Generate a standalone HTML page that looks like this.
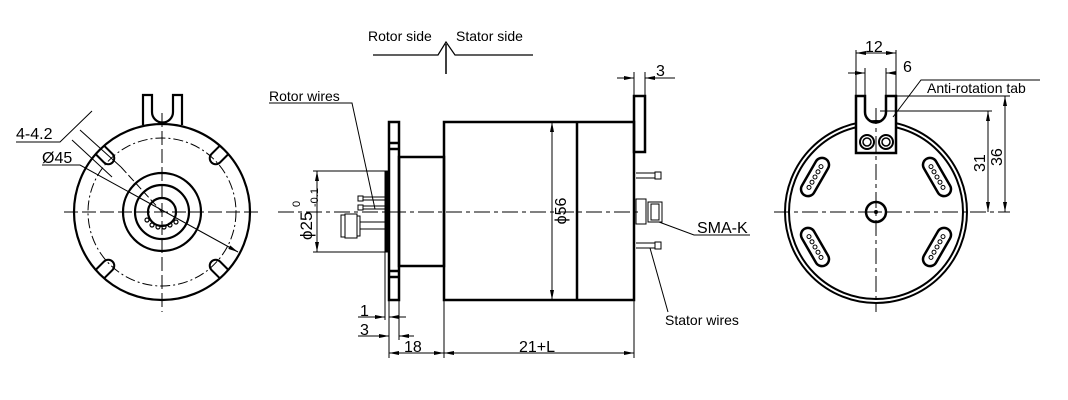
<!DOCTYPE html>
<html><head><meta charset="utf-8"><style>
html,body{margin:0;padding:0;background:#fff;width:1068px;height:400px;overflow:hidden}
svg{display:block}
text{font-family:"Liberation Sans",Arial,sans-serif;fill:#000;stroke:none}
</style></head><body>
<svg width="1068" height="400" viewBox="0 0 1068 400" xmlns="http://www.w3.org/2000/svg">
<defs>
<marker id="a" viewBox="0 0 10 4" refX="10" refY="2" markerWidth="10" markerHeight="4" orient="auto-start-reverse" markerUnits="userSpaceOnUse"><path d="M0,0 L10,2 L0,4z" fill="#000" stroke="none"/></marker>
</defs>
<g fill="none" stroke="#000">
<!-- LEFT VIEW -->
<g stroke-width="2.2">
<circle cx="162" cy="212" r="88"/>
<circle cx="162" cy="212" r="39"/>
<circle cx="162" cy="212" r="27"/>
<circle cx="162" cy="212" r="14"/>
<path d="M143,125 V95 H152 V112 A10.5,10.5 0 0 0 173,112 V95 H182 V125"/>
</g>
<circle cx="162" cy="212" r="74" stroke-width="1" stroke-dasharray="10,3,2,3"/>
<g stroke-width="2">
<g transform="translate(162,212) rotate(-45)"><path d="M-6,-88 V-76 A6,6 0 0 0 6,-76 V-88"/></g>
<g transform="translate(162,212) rotate(45)"><path d="M-6,-88 V-76 A6,6 0 0 0 6,-76 V-88"/></g>
<g transform="translate(162,212) rotate(135)"><path d="M-6,-88 V-76 A6,6 0 0 0 6,-76 V-88"/></g>
<g transform="translate(162,212) rotate(-135)"><path d="M-6,-88 V-76 A6,6 0 0 0 6,-76 V-88"/></g>
</g>
<g stroke-width="1.2">
<circle cx="147" cy="220" r="2"/><circle cx="152" cy="225" r="2"/><circle cx="158" cy="227" r="2"/><circle cx="164" cy="227" r="2"/><circle cx="170" cy="225" r="2"/><circle cx="176" cy="222" r="2"/>
</g>
<g stroke-width="1">
<path d="M64,212 H260" stroke-dasharray="14,4"/>
<path d="M162,113 V312" stroke-dasharray="14,4"/>
<path d="M42,165 H80 L238,252" marker-end="url(#a)"/>
<path d="M16,142 H60 L92,111"/>
<path d="M72,140 L112,177"/><path d="M80,130 L121,167"/>
<path d="M121,167 L162,212" stroke-dasharray="8,3"/>
</g>
<text x="16" y="139" font-size="16">4-4.2</text>
<text x="42" y="163" font-size="16">Ø45</text>

<!-- TOP ARROW -->
<path d="M373,55 H438 L446,42 L455,55 H533" stroke-width="1.2"/>
<path d="M446,44 V74" stroke-width="1.5"/>
<text x="368" y="41" font-size="14">Rotor side</text>
<text x="456" y="41" font-size="14">Stator  side</text>

<!-- MIDDLE VIEW -->
<g stroke-width="2.5">
<rect x="389" y="122" width="10" height="178"/>
<path d="M389,143 H399 M389,149 H399 M389,271 H399 M389,277 H399"/>
<rect x="399" y="157" width="45" height="109"/>
<rect x="444" y="122" width="190" height="178"/>
<path d="M577,122 V300"/>
<rect x="634" y="96" width="11" height="56"/>
</g>
<rect x="385" y="171" width="4" height="81" fill="#000" stroke-width="1"/>
<path d="M278,212 H640" stroke-width="1" stroke-dasharray="16,4,4,4"/>
<g stroke-width="1">
<rect x="358" y="196" width="5" height="5"/><rect x="358" y="205" width="5" height="5"/>
<path d="M363,197 H385 M363,200 H385 M363,206 H385 M363,209 H385"/>
<rect x="341" y="215" width="4" height="22"/><rect x="345" y="214" width="12" height="24"/><rect x="357" y="216" width="3" height="20"/>
<path d="M360,222 H385 M360,229 H385"/>
<path d="M269,103 H352 L375,209"/>
</g>
<g stroke-width="1">
<path d="M636,173 H655 M636,178 H655"/><rect x="655" y="172" width="6" height="7"/>
<path d="M636,243 H655 M636,248 H655"/><rect x="655" y="242" width="6" height="7"/>
<rect x="636" y="199" width="10" height="25"/><rect x="648" y="202" width="14" height="20"/><rect x="651" y="204" width="8" height="16"/>
<path d="M659,222 L694,235 H750"/>
<path d="M650,248 L668,312"/>
</g>
<g stroke-width="1">
<path d="M313,171 H385 M313,252 H385"/>
<path d="M317,171 V252" marker-start="url(#a)" marker-end="url(#a)"/>
<path d="M552,122 V300" marker-start="url(#a)" marker-end="url(#a)"/>
<path d="M385,252 V320 M389,300 V358 M399,300 V340 M444,300 V358 M634,300 V358 M634,96 V72 M645,96 V72"/>
<path d="M358,317 H385" marker-end="url(#a)"/><path d="M406,317 H389" marker-end="url(#a)"/>
<path d="M358,336 H389" marker-end="url(#a)"/><path d="M414,336 H399" marker-end="url(#a)"/>
<path d="M389,353 H444" marker-start="url(#a)" marker-end="url(#a)"/>
<path d="M444,353 H634" marker-start="url(#a)" marker-end="url(#a)"/>
<path d="M617,78 H634" marker-end="url(#a)"/><path d="M662,78 H645" marker-end="url(#a)"/><path d="M645,78 H675"/>
</g>
<text x="269" y="101" font-size="14">Rotor wires</text>
<text x="360" y="316" font-size="16">1</text>
<text x="360" y="335" font-size="16">3</text>
<text x="404" y="352" font-size="16">18</text>
<text x="519" y="352" font-size="16">21+L</text>
<text x="656" y="76" font-size="16">3</text>
<text x="697" y="233" font-size="16">SMA-K</text>
<text x="665" y="325" font-size="14">Stator wires</text>
<text transform="translate(566,211) rotate(-90)" font-size="16" text-anchor="middle">ϕ56</text>
<text transform="translate(312,240) rotate(-90)" font-size="17">ϕ25</text>
<text transform="translate(300,207) rotate(-90)" font-size="11">0</text>
<text transform="translate(318,207) rotate(-90)" font-size="11">-0.1</text>

<!-- RIGHT VIEW -->
<circle cx="876" cy="212" r="91" stroke-width="2"/>
<circle cx="876" cy="212" r="87" stroke-width="2"/>
<path d="M856,153 V96 H865 V112 A10.5,10.5 0 0 0 886,112 V96 H896 V153 Z" fill="#fff" stroke-width="2.5"/>
<circle cx="867" cy="142" r="7" stroke-width="2"/><circle cx="867" cy="142" r="4" stroke-width="1.5"/>
<circle cx="886" cy="142" r="7" stroke-width="2"/><circle cx="886" cy="142" r="4" stroke-width="1.5"/>
<circle cx="876" cy="212" r="10" stroke-width="2.5"/>
<circle cx="876" cy="212" r="1.5" fill="#000"/>
<g stroke-width="2.5">
<g transform="translate(815,177) rotate(30)"><rect x="-7" y="-21" width="14" height="42" rx="7"/></g>
<g transform="translate(937,177) rotate(-30)"><rect x="-7" y="-21" width="14" height="42" rx="7"/></g>
<g transform="translate(815,247) rotate(-30)"><rect x="-7" y="-21" width="14" height="42" rx="7"/></g>
<g transform="translate(937,247) rotate(30)"><rect x="-7" y="-21" width="14" height="42" rx="7"/></g>
</g>
<g stroke-width="1">
<g transform="translate(815,177) rotate(30)"><circle cy="-12" r="2"/><circle cy="-6" r="2"/><circle cy="0" r="2"/><circle cy="6" r="2"/><circle cy="12" r="2"/></g>
<g transform="translate(937,177) rotate(-30)"><circle cy="-12" r="2"/><circle cy="-6" r="2"/><circle cy="0" r="2"/><circle cy="6" r="2"/><circle cy="12" r="2"/></g>
<g transform="translate(815,247) rotate(-30)"><circle cy="-12" r="2"/><circle cy="-6" r="2"/><circle cy="0" r="2"/><circle cy="6" r="2"/><circle cy="12" r="2"/></g>
<g transform="translate(937,247) rotate(30)"><circle cy="-12" r="2"/><circle cy="-6" r="2"/><circle cy="0" r="2"/><circle cy="6" r="2"/><circle cy="12" r="2"/></g>
<path d="M774,212 H1010" stroke-dasharray="16,4,4,4"/>
<path d="M876,108 V312" stroke-dasharray="16,4,4,4"/>
<path d="M856,96 V50 M896,96 V50 M865,96 V68 M886,96 V68"/>
<path d="M856,53 H896" marker-start="url(#a)" marker-end="url(#a)"/>
<path d="M848,73 H865" marker-end="url(#a)"/><path d="M893,73 H886" marker-end="url(#a)"/>
<path d="M893,117 L921,80 H1040"/>
<path d="M896,96 H1010 M880,111 H992"/>
<path d="M1005,96 V212" marker-start="url(#a)" marker-end="url(#a)"/>
<path d="M988,111 V212" marker-start="url(#a)" marker-end="url(#a)"/>
</g>
<text x="865" y="52" font-size="16">12</text>
<text x="903" y="72" font-size="16">6</text>
<text x="927" y="93" font-size="14">Anti-rotation tab</text>
<text transform="translate(985,172) rotate(-90)" font-size="16">31</text>
<text transform="translate(1002,166) rotate(-90)" font-size="16">36</text>
</g>
</svg>
</body></html>
